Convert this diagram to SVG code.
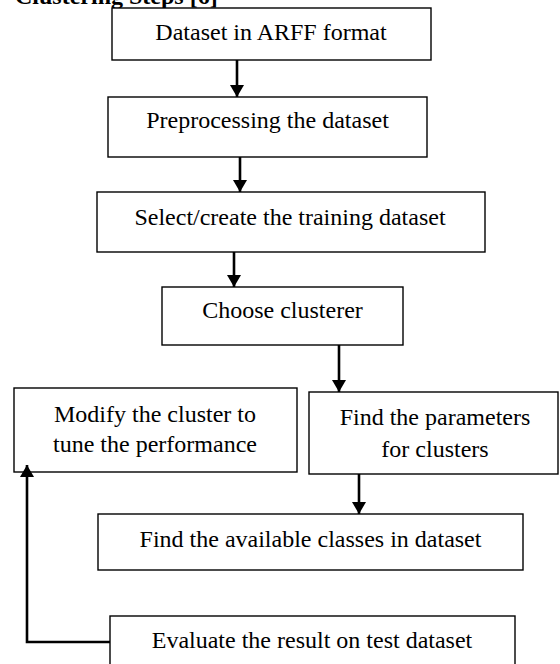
<svg xmlns="http://www.w3.org/2000/svg" width="560" height="664" viewBox="0 0 560 664">
<defs>
<style>
.box{fill:#fff;stroke:#000;stroke-width:1.4}
.t{font-family:"Liberation Serif","Times New Roman",serif;font-size:24px;fill:#000;text-anchor:middle}
.title{font-family:"Liberation Serif","Times New Roman",serif;font-size:24px;font-weight:bold;fill:#000}
.c{fill:none;stroke:#000;stroke-width:2.6}
</style>
<marker id="ah" viewBox="0 0 12 14" refX="12" refY="7" markerWidth="12" markerHeight="14" markerUnits="userSpaceOnUse" orient="auto">
<path d="M0,0 L12,7 L0,14 z" fill="#000"/>
</marker>
</defs>
<rect width="560" height="664" fill="#fff"/>
<text class="title" x="15" y="4">Clustering Steps [6]</text>
<g id="n1"><rect class="box" x="112" y="8" width="319" height="52"/><text class="t" x="271" y="40">Dataset in ARFF format</text></g>
<g id="n2"><rect class="box" x="108" y="97" width="319" height="60"/><text class="t" x="267.5" y="128">Preprocessing the dataset</text></g>
<g id="n3"><rect class="box" x="97" y="192" width="388" height="60"/><text class="t" x="290" y="225">Select/create the training dataset</text></g>
<g id="n4"><rect class="box" x="162" y="287" width="241" height="58"/><text class="t" x="282.5" y="318">Choose clusterer</text></g>
<g id="n5"><rect class="box" x="14" y="388" width="283" height="84"/><text class="t" x="155" y="422">Modify the cluster to</text><text class="t" x="155" y="452">tune the performance</text></g>
<g id="n6"><rect class="box" x="309" y="392" width="249" height="82"/><text class="t" x="435" y="425">Find the parameters</text><text class="t" x="435" y="457">for clusters</text></g>
<g id="n7"><rect class="box" x="98" y="514" width="425" height="56"/><text class="t" x="310.5" y="547">Find the available classes in dataset</text></g>
<g id="n8"><rect class="box" x="110" y="616" width="405" height="60"/><text class="t" x="312" y="648">Evaluate the result on test dataset</text></g>
<g id="connectors">
<line class="c" x1="237" y1="60" x2="237" y2="97" marker-end="url(#ah)"/>
<line class="c" x1="240" y1="157" x2="240" y2="192" marker-end="url(#ah)"/>
<line class="c" x1="234" y1="252" x2="234" y2="287" marker-end="url(#ah)"/>
<line class="c" x1="339" y1="345" x2="339" y2="392" marker-end="url(#ah)"/>
<line class="c" x1="359" y1="474" x2="359" y2="514" marker-end="url(#ah)"/>
<polyline class="c" points="110,642 27,642 27,465" marker-end="url(#ah)"/>
</g>
</svg>
